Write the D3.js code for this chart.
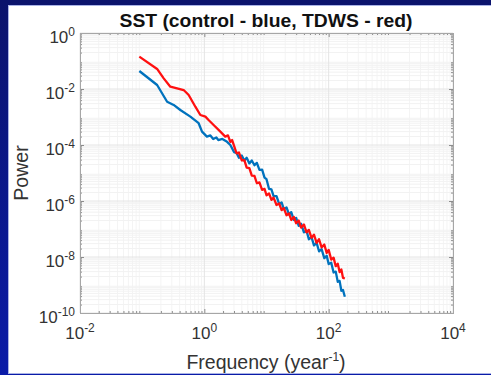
<!DOCTYPE html>
<html>
<head>
<meta charset="utf-8">
<script src="https://cdn.jsdelivr.net/npm/d3@7"></script>
<style>
body { margin: 0; background: #0b136c; }
svg { display: block; font-family: "Liberation Sans", Arial, Helvetica, sans-serif; }
</style>
</head>
<body>
<svg id="chart" width="491" height="375"></svg>
<script>
// Tick values for the two log axes
var freqTicks = [1e-2, 1e0, 1e2, 1e4];
var powerTicks = [1e-10, 1e-8, 1e-6, 1e-4, 1e-2, 1e0];

// control run (blue)
var controlFreq = [0.09, 0.174, 0.252, 0.321, 0.411, 0.596, 0.81, 0.918, 1.10, 1.25, 1.39, 1.56, 1.68, 1.95, 2.32, 2.62,
    3, 3.3, 3.6, 4, 4.4, 4.8, 5.3, 5.8, 6.4, 7, 7.7, 8.5, 9.3, 10, 11, 12, 13, 14.5, 16, 17.5, 19, 21, 23, 25, 27.5,
    30, 33, 36, 40, 44, 48, 53, 58, 64, 70, 77, 85, 93, 100, 110, 120, 130, 140, 150, 160, 170, 182];
var controlPower = [0.044, 0.0139, 0.0035, 0.0027, 0.00178, 0.00103, 6.0e-4, 3.0e-4, 2.0e-4, 2.2e-4, 1.64e-4, 1.86e-4, 1.5e-4, 1.64e-4, 1.3e-4, 1.0e-4,
    5.6e-5, 5.2e-5, 3.5e-5, 4.2e-5, 2.8e-5, 3.5e-5, 2.2e-5, 2.8e-5, 1.9e-5, 2.3e-5, 1.3e-5, 1.32e-5, 6.8e-6, 6.0e-6, 2.7e-6, 2.6e-6, 1.5e-6, 1.5e-6,
    7.8e-7, 8.9e-7, 5.1e-7, 5.9e-7, 3.3e-7, 4.0e-7, 2.1e-7, 2.5e-7, 1.3e-7, 1.55e-7, 7.6e-8, 8.7e-8, 4.3e-8, 5.1e-8, 2.6e-8, 3.2e-8,
    1.6e-8, 1.9e-8, 9.1e-9, 1.1e-8, 5.6e-9, 6.2e-9, 2.8e-9, 3.0e-9, 1.3e-9, 1.4e-9, 6.2e-10, 6.6e-10, 3.8e-10];

// TDWS run (red)
var tdwsFreq = [0.09, 0.174, 0.222, 0.284, 0.364, 0.465, 0.56, 0.717, 0.863, 1.04, 1.17, 1.41, 1.81, 2.17, 2.4, 2.62, 2.8,
    3, 3.3, 3.6, 4, 4.4, 4.8, 5.3, 5.8, 6.4, 7, 7.7, 8.5, 9.3, 10, 11, 12, 13, 14.5, 16, 17.5, 19, 21, 23, 25, 27.5,
    30, 33, 36, 40, 44, 48, 53, 58, 64, 70, 77, 85, 93, 100, 110, 120, 130, 140, 150, 160, 170, 182];
var tdwsPower = [0.143, 0.052, 0.024, 0.0121, 0.0106, 0.0092, 0.0061, 0.00233, 0.00118, 0.00103, 7.8e-4, 5.2e-4, 3.0e-4, 2.0e-4, 2.2e-4, 1.3e-4, 1.5e-4,
    9.5e-5, 5.0e-5, 5.4e-5, 2.8e-5, 2.9e-5, 1.55e-5, 1.5e-5, 8.1e-6, 7.9e-6, 4.3e-6, 4.6e-6, 2.5e-6, 2.7e-6, 1.6e-6, 1.86e-6, 1.1e-6, 1.32e-6,
    7.2e-7, 8.1e-7, 4.7e-7, 5.6e-7, 3.1e-7, 3.6e-7, 2.1e-7, 2.7e-7, 1.6e-7, 2.0e-7, 1.12e-7, 1.45e-7, 7.6e-8, 9.3e-8, 4.8e-8, 6.3e-8,
    3.2e-8, 4.3e-8, 2.2e-8, 2.8e-8, 1.4e-8, 1.8e-8, 8.1e-9, 9.5e-9, 4.7e-9, 5.8e-9, 2.9e-9, 3.6e-9, 1.8e-9, 1.7e-9];

var svg = d3.select('#chart');
var W = 491, H = 375;
var plot = {l: 80, r: 453, t: 33, b: 313};

var x = d3.scaleLog().domain([1e-2, 1e4]).range([plot.l, plot.r]);
var y = d3.scaleLog().domain([1e-10, 1e0]).range([plot.b, plot.t]);

// slide background + white figure panel
var grad = svg.append('defs').append('linearGradient')
    .attr('id', 'bg').attr('x1', 0).attr('y1', 0).attr('x2', 0).attr('y2', 1);
grad.append('stop').attr('offset', '0%').attr('stop-color', '#0b136c');
grad.append('stop').attr('offset', '100%').attr('stop-color', '#0a1ba8');
svg.append('rect').attr('width', W).attr('height', H).attr('fill', 'url(#bg)');
svg.append('rect').attr('x', 8.5).attr('y', 5.5).attr('width', 490).attr('height', 368)
    .attr('fill', '#fff').attr('stroke', '#aab3e6');

// minor tick positions, 2..9 in every decade
function minors(lo, hi) {
    var out = [];
    for (var k = lo; k < hi; k++) {
        for (var m = 2; m <= 9; m++) out.push(m * Math.pow(10, k));
    }
    return out;
}
var xMinor = minors(-2, 4);
var yMinor = minors(-10, 0);

// grid
var grid = svg.append('g');
grid.selectAll('.xminor').data(xMinor).enter().append('line')
    .attr('x1', d => x(d)).attr('x2', d => x(d)).attr('y1', plot.t).attr('y2', plot.b)
    .attr('stroke', '#f4f4f4');
grid.selectAll('.yminor').data(yMinor).enter().append('line')
    .attr('y1', d => y(d)).attr('y2', d => y(d)).attr('x1', plot.l).attr('x2', plot.r)
    .attr('stroke', '#f2f2f2');
grid.selectAll('.xmajor').data(freqTicks).enter().append('line')
    .attr('x1', d => x(d)).attr('x2', d => x(d)).attr('y1', plot.t).attr('y2', plot.b)
    .attr('stroke', '#e4e4e4');
grid.selectAll('.ymajor').data(powerTicks).enter().append('line')
    .attr('y1', d => y(d)).attr('y2', d => y(d)).attr('x1', plot.l).attr('x2', plot.r)
    .attr('stroke', '#e4e4e4');

// spectra
var line = d3.line().x(d => x(d[0])).y(d => y(d[1]));
var series = [
    {freq: controlFreq, power: controlPower, color: '#0072bd'},
    {freq: tdwsFreq, power: tdwsPower, color: '#ff1010'}
];
series.forEach(function(s) {
    svg.append('path')
        .datum(s.freq.map((f, i) => [f, s.power[i]]))
        .attr('d', line)
        .attr('fill', 'none')
        .attr('stroke', s.color)
        .attr('stroke-width', 2.3)
        .attr('stroke-linejoin', 'round');
});

// box with inward ticks on all sides
var tickCol = '#8c8c8c';
function tickAxis(axis, tx, ty) {
    var g = svg.append('g').attr('transform', 'translate(' + [tx, ty] + ')').call(axis);
    g.select('.domain').remove();
    g.selectAll('line').attr('stroke', tickCol);
    g.selectAll('text').remove();
}
[[d3.axisBottom, 0, plot.b], [d3.axisTop, 0, plot.t]].forEach(function(a) {
    tickAxis(a[0](x).tickValues(freqTicks).tickSize(-4), a[1], a[2]);
    tickAxis(a[0](x).tickValues(xMinor).tickSize(-2), a[1], a[2]);
});
[[d3.axisLeft, plot.l, 0], [d3.axisRight, plot.r, 0]].forEach(function(a) {
    tickAxis(a[0](y).tickValues(powerTicks).tickSize(-4), a[1], a[2]);
    tickAxis(a[0](y).tickValues(yMinor).tickSize(-2), a[1], a[2]);
});
svg.append('rect')
    .attr('x', plot.l + 0.5).attr('y', plot.t + 0.5)
    .attr('width', plot.r - plot.l).attr('height', plot.b - plot.t)
    .attr('fill', 'none').attr('stroke', '#a6a6a6');

// tick labels as 10 with superscript exponent
var labCol = '#333';
function powLabel(sel, v) {
    sel.append('tspan').text('10');
    sel.append('tspan').attr('dy', -7).style('font-size', '12px').text(Math.round(Math.log10(v)));
}
svg.selectAll('.xlab').data(freqTicks).enter().append('text')
    .attr('x', d => x(d)).attr('y', 339)
    .attr('text-anchor', 'middle').style('font-size', '17px').attr('fill', labCol)
    .each(function(d) { powLabel(d3.select(this), d); });
svg.selectAll('.ylab').data(powerTicks).enter().append('text')
    .attr('x', 75).attr('y', d => y(d) + 9.5)
    .attr('text-anchor', 'end').style('font-size', '17px').attr('fill', labCol)
    .each(function(d) { powLabel(d3.select(this), d); });

// title and axis labels
svg.append('text')
    .attr('x', 266).attr('y', 26.5).attr('text-anchor', 'middle')
    .style('font-size', '19px').style('font-weight', 'bold').attr('fill', '#111')
    .attr('textLength', 293).attr('lengthAdjust', 'spacingAndGlyphs')
    .text('SST (control - blue, TDWS - red)');

var xl = svg.append('text')
    .attr('x', 266).attr('y', 369).attr('text-anchor', 'middle')
    .style('font-size', '19.5px').attr('fill', labCol);
xl.append('tspan').text('Frequency (year');
xl.append('tspan').attr('dy', -8).style('font-size', '12px').text('-1');
xl.append('tspan').attr('dy', 8).text(')');

svg.append('text')
    .attr('transform', 'translate(28,173)rotate(-90)')
    .attr('text-anchor', 'middle')
    .style('font-size', '19.5px').attr('fill', labCol)
    .text('Power');
</script>
</body>
</html>
